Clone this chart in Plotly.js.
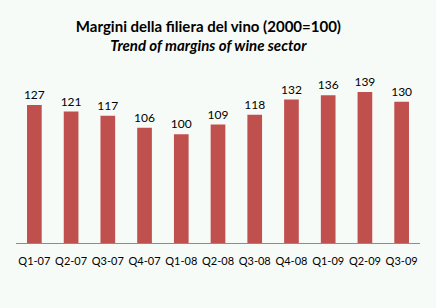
<!DOCTYPE html>
<html>
<head>
<meta charset="utf-8">
<script src="https://cdn.plot.ly/plotly-3.0.1.min.js"></script>
<style>html,body{margin:0;padding:0;background:#f7fbf8;}#chart{width:436px;height:308px;}</style>
</head>
<body>
<div id="chart"></div>
<script>
const categories = ["Q1-07","Q2-07","Q3-07","Q4-07","Q1-08","Q2-08","Q3-08","Q4-08","Q1-09","Q2-09","Q3-09"];
const margins = [127,121,117,106,100,109,118,132,136,139,130];

const trace = {
  type: 'bar',
  x: categories,
  y: margins,
  marker: {color: '#C0504D'},
  text: margins.map(String),
  textposition: 'outside',
  constraintext: 'none',
  textfont: {family: 'Lato, sans-serif', size: 12, color: '#000'},
  cliponaxis: false,
  hoverinfo: 'none'
};

const layout = {
  width: 436,
  height: 308,
  paper_bgcolor: '#f7fbf8',
  plot_bgcolor: '#f7fbf8',
  margin: {l: 16, r: 16, t: 60, b: 65},
  title: {
    text: '<b>Margini della filiera del vino (2000=100)</b><br><b><i>Trend of margins of wine sector</i></b>',
    font: {family: 'Lato, sans-serif', size: 15, color: '#000'},
    x: 0.478, xanchor: 'center',
    yref: 'container',
    y: 0.897, yanchor: 'top'
  },
  bargap: 0.6,
  showlegend: false,
  xaxis: {
    type: 'category',
    showline: true, linecolor: '#8c8c8c', linewidth: 1,
    showgrid: false, zeroline: false,
    ticks: '', ticklabelstandoff: 8, tickangle: 0,
    tickfont: {family: 'Lato, sans-serif', size: 11, color: '#000'},
    fixedrange: true
  },
  yaxis: {
    range: [0, 168.4],
    visible: false,
    showgrid: false, zeroline: false,
    fixedrange: true
  }
};

Plotly.newPlot('chart', [trace], layout, {displayModeBar: false, staticPlot: true});
</script>
</body>
</html>
